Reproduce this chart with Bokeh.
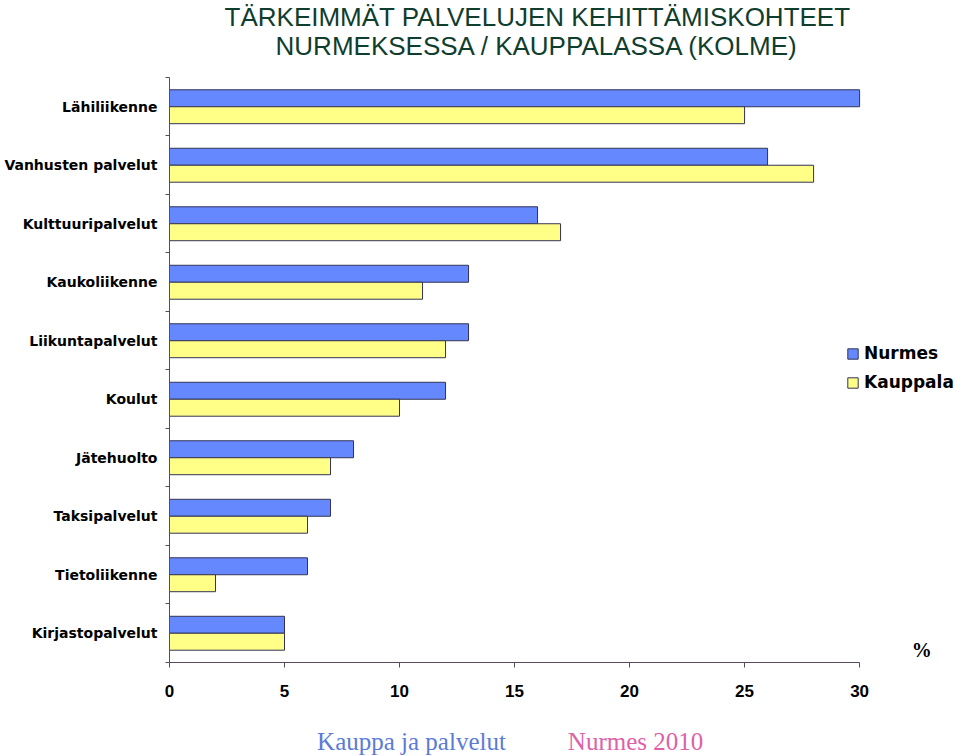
from bokeh.plotting import figure
from bokeh.models import (ColumnDataSource, FixedTicker, Legend, LegendItem, Label, Range1d)
from bokeh.transform import dodge
from bokeh.layouts import column
from bokeh.embed import file_html
from bokeh.resources import INLINE

categories = ["Lähiliikenne", "Vanhusten palvelut", "Kulttuuripalvelut", "Kaukoliikenne",
              "Liikuntapalvelut", "Koulut", "Jätehuolto", "Taksipalvelut",
              "Tietoliikenne", "Kirjastopalvelut"]
nurmes = [30, 26, 16, 13, 13, 12, 8, 7, 6, 5]
kauppala = [25, 28, 17, 11, 12, 10, 7, 6, 2, 5]
x_ticks = [0, 5, 10, 15, 20, 25, 30]

n = len(categories)
ypos = [n - 0.5 - i for i in range(n)]
src = ColumnDataSource(dict(y=ypos, cat=categories, nurmes=nurmes, kauppala=kauppala))

W = 958
xr = Range1d(0, 34.30)
p = figure(width=W, height=715, output_backend="svg", toolbar_location=None,
           x_range=xr, y_range=Range1d(0, 11.316),
           min_border_left=169, min_border_right=0, min_border_top=0, min_border_bottom=53)
p.outline_line_color = None
p.xgrid.visible = False
p.ygrid.visible = False

edge = "#333355"
r1 = p.hbar(y=dodge("y", 0.145), right="nurmes", left=0, height=0.29, source=src,
            fill_color="#6688FF", line_color=edge, line_width=1)
r2 = p.hbar(y=dodge("y", -0.145), right="kauppala", left=0, height=0.29, source=src,
            fill_color="#FFFF88", line_color=edge, line_width=1)

axis_color = "#594a5e"
# x axis
p.xaxis.ticker = FixedTicker(ticks=x_ticks, minor_ticks=[])
p.xaxis.bounds = (0, 30)
p.xaxis.axis_line_color = axis_color
p.xaxis.major_tick_line_color = axis_color
p.xaxis.major_tick_in = 0
p.xaxis.major_tick_out = 5
p.xaxis.minor_tick_line_color = None
p.xaxis.major_label_text_font = "Liberation Sans"
p.xaxis.major_label_text_font_style = "bold"
p.xaxis.major_label_text_font_size = "17px"
p.xaxis.major_label_text_color = "black"
p.xaxis.major_label_standoff = 17

# y axis
p.yaxis.ticker = FixedTicker(ticks=ypos, minor_ticks=list(range(n + 1)))
p.yaxis.bounds = (0, n)
p.yaxis.major_label_overrides = {y: c for y, c in zip(ypos, categories)}
p.yaxis.axis_line_color = axis_color
p.yaxis.major_tick_line_color = None
p.yaxis.major_tick_in = 0
p.yaxis.major_tick_out = 0
p.yaxis.minor_tick_line_color = axis_color
p.yaxis.minor_tick_in = 0
p.yaxis.minor_tick_out = 4
p.yaxis.major_label_text_font = "DejaVu Sans"
p.yaxis.major_label_text_font_style = "bold"
p.yaxis.major_label_text_font_size = "14px"
p.yaxis.major_label_text_color = "black"
p.yaxis.major_label_standoff = 8

legend = Legend(items=[LegendItem(label="Nurmes", renderers=[r1]),
                       LegendItem(label="Kauppala", renderers=[r2])],
                location=(677, 270), padding=0, spacing=9, margin=0,
                glyph_width=13, glyph_height=13, label_standoff=5,
                border_line_color=None, background_fill_alpha=0,
                label_text_font="DejaVu Sans", label_text_font_style="bold",
                label_text_font_size="17px", label_text_color="black")
p.add_layout(legend)

title_color = "#0f3d2e"
for txt, yy in [("TÄRKEIMMÄT PALVELUJEN KEHITTÄMISKOHTEET", 11.04),
                ("NURMEKSESSA / KAUPPALASSA (KOLME)", 10.53)]:
    p.add_layout(Label(x=16.0, y=yy, text=txt, text_align="center", text_baseline="middle",
                       text_font="Liberation Sans", text_font_size="26px", text_color=title_color))

p.add_layout(Label(x=32.7, y=0.22, text="%", text_align="center", text_baseline="middle",
                   text_font="Liberation Serif", text_font_style="bold",
                   text_font_size="20px", text_color="black"))

# footer (frame is aligned with the main figure's frame in the column layout)
p2 = figure(width=W, height=41, output_backend="svg", toolbar_location=None,
            x_range=xr, y_range=Range1d(0, 41),
            x_axis_location=None, y_axis_location=None,
            min_border_left=169, min_border_right=0, min_border_top=0, min_border_bottom=0)
p2.outline_line_color = None
p2.xgrid.visible = False
p2.ygrid.visible = False
for txt, xx, col in [("Kauppa ja palvelut", 10.52, "#5b7bd5"), ("Nurmes 2010", 20.26, "#e060a8")]:
    p2.add_layout(Label(x=xx, y=15, text=txt, text_align="center", text_baseline="middle",
                        text_font="Liberation Serif", text_font_size="25px", text_color=col))

layout = column(p, p2, spacing=0)
open("out.html", "w").write(file_html(layout, INLINE))
